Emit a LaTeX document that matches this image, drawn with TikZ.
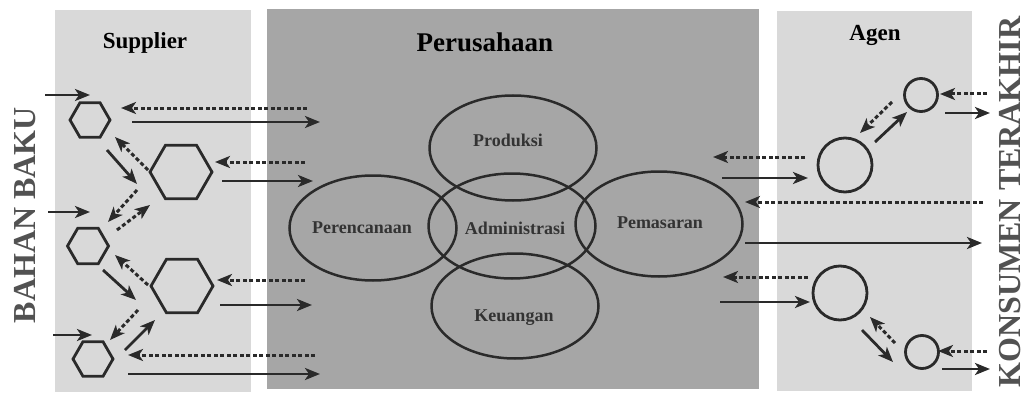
\documentclass[tikz,border=0pt]{standalone}
\usepackage{fontspec}
\setmainfont{Liberation Serif}
\usetikzlibrary{shapes.geometric,arrows.meta}
\definecolor{ink}{HTML}{2A2A2A}
\definecolor{sidegray}{HTML}{D9D9D9}
\definecolor{midgray}{HTML}{A6A6A6}
\definecolor{textgray}{HTML}{333333}
\tikzset{
  hexa/.style={regular polygon, regular polygon sides=6, draw=ink, line width=2.8pt, inner sep=0pt},
  ring/.style={circle, draw=ink, line width=2.8pt, inner sep=0pt},
  dept/.style={ellipse, draw=ink, line width=2.5pt, minimum width=167pt, minimum height=105pt, inner sep=0pt},
  deptname/.style={font=\fontsize{18}{20}\selectfont\bfseries, text=textgray},
  title/.style={font=\fontsize{23}{25}\selectfont\bfseries},
  sidename/.style={font=\fontsize{32}{36}\selectfont\bfseries, text=textgray!85, rotate=90},
  goods/.style={draw=ink, line width=2.8pt, -{Stealth[length=15pt,width=12pt,inset=4pt]}},
  info/.style={draw=ink, line width=3pt, dash pattern=on 4pt off 2.5pt, -{Stealth[length=15pt,width=12pt,inset=4pt]}}
}
\begin{document}
\begin{tikzpicture}[x=1pt,y=-1pt]
      \useasboundingbox (0,0) rectangle (1026,396);
      \fill[sidegray] (55,10) rectangle (251,392);
      \fill[midgray] (267,9) rectangle (759,389);
      \fill[sidegray] (777,11) rectangle (972,391);
      \draw
        (145,43) node[title] (supplier){Supplier}
        (485,42) node[title, font=\fontsize{27}{30}\selectfont\bfseries] (perusahaan){Perusahaan}
        (875,35) node[title] (agen){Agen}
        (25,215) node[sidename] (bahan){BAHAN BAKU}
        (1010,202) node[sidename] (konsumen){KONSUMEN TERAKHIR};
      \draw
        (90,120) node[hexa, minimum size=40pt] (h1){}
        (181,172) node[hexa, minimum size=62pt] (h2){}
        (88,246) node[hexa, minimum size=41pt] (h3){}
        (182,286) node[hexa, minimum size=62pt] (h4){}
        (93,359) node[hexa, minimum size=40pt] (h5){};
      \draw
        (921,95) node[ring, minimum size=33pt] (c1){}
        (845,165) node[ring, minimum size=54pt] (c2){}
        (840,293) node[ring, minimum size=54pt] (c3){}
        (922,352) node[ring, minimum size=33pt] (c4){};
      \draw
        (373,228) node[dept] (perencanaan){}
        (513,148) node[dept] (produksi){}
        (512,226) node[dept] (administrasi){}
        (659,224) node[dept] (pemasaran){}
        (515,306) node[dept] (keuangan){};
      \draw
        (362,228) node[deptname] (t-perencanaan){Perencanaan}
        (508,140) node[deptname] (t-produksi){Produksi}
        (515,228) node[deptname] (t-administrasi){Administrasi}
        (660,223) node[deptname] (t-pemasaran){Pemasaran}
        (514,318) node[deptname] (t-keuangan){Keuangan};
      \coordinate (bb1) at (45,95);
      \coordinate (bb2) at (48,212);
      \coordinate (bb3) at (53,335);
      \coordinate (r1) at (307,108);
      \coordinate (r2) at (305,162);
      \coordinate (r3) at (305,280);
      \coordinate (r4) at (315,355);
      \coordinate (p1) at (320,122);
      \coordinate (p2) at (313,181);
      \coordinate (p3) at (312,305);
      \coordinate (p4) at (320,374);
      \coordinate (q1) at (713,157);
      \coordinate (q2) at (722,178);
      \coordinate (q3) at (745,202);
      \coordinate (q4) at (745,243);
      \coordinate (q5) at (723,277);
      \coordinate (q6) at (720,302);
      \coordinate (k1) at (983,202);
      \coordinate (k2) at (982,243);
      \coordinate (k3) at (987,94);
      \coordinate (k4) at (990,113);
      \coordinate (k5) at (987,351);
      \coordinate (k6) at (990,369);
      \begin{scope}[goods]
        \draw (bb1) to ([shift={(0,-25)}]h1.center);
        \draw (bb2) to ([shift={(2,-34)}]h3.center);
        \draw (bb3) to ([shift={(-1,-24)}]h5.center);
        \draw ([shift={(42,2)}]h1.center) to (p1);
        \draw ([shift={(41,9)}]h2.center) to (p2);
        \draw ([shift={(38,19)}]h4.center) to (p3);
        \draw ([shift={(35,15)}]h5.center) to (p4);
        \draw ([shift={(17,30)}]h1.center) to ([shift={(-44,12)}]h2.center);
        \draw ([shift={(15,24)}]h3.center) to ([shift={(-46,14)}]h4.center);
        \draw ([shift={(32,-9)}]h5.center) to ([shift={(-27,34)}]h4.center);
        \draw (q2) to ([shift={(-37,13)}]c2.center);
        \draw (q4) to (k2);
        \draw (q6) to ([shift={(-30,9)}]c3.center);
        \draw ([shift={(30,-23)}]c2.center) to ([shift={(-14,17)}]c1.center);
        \draw ([shift={(24,18)}]c1.center) to (k4);
        \draw ([shift={(22,37)}]c3.center) to ([shift={(-29,10)}]c4.center);
        \draw ([shift={(20,17)}]c4.center) to (k6);
      \end{scope}
      \begin{scope}[info]
        \draw (r1) to ([shift={(31,-12)}]h1.center);
        \draw (r2) to ([shift={(34,-10)}]h2.center);
        \draw (r3) to ([shift={(35,-6)}]h4.center);
        \draw (r4) to ([shift={(35,-4)}]h5.center);
        \draw ([shift={(-33,-2)}]h2.center) to ([shift={(25,17)}]h1.center);
        \draw ([shift={(-44,18)}]h2.center) to ([shift={(20,-24)}]h3.center);
        \draw ([shift={(29,-16)}]h3.center) to ([shift={(-31,33)}]h2.center);
        \draw ([shift={(-34,-1)}]h4.center) to ([shift={(27,9)}]h3.center);
        \draw ([shift={(-44,24)}]h4.center) to ([shift={(17,-19)}]h5.center);
        \draw ([shift={(-40,-8)}]c2.center) to (q1);
        \draw (k1) to (q3);
        \draw ([shift={(-32,-16)}]c3.center) to (q5);
        \draw ([shift={(-29,7)}]c1.center) to ([shift={(15,-32)}]c2.center);
        \draw (k3) to ([shift={(19,-1)}]c1.center);
        \draw ([shift={(-27,-9)}]c4.center) to ([shift={(30,24)}]c3.center);
        \draw (k5) to ([shift={(16,-1)}]c4.center);
      \end{scope}
    \end{tikzpicture}
\end{document}
